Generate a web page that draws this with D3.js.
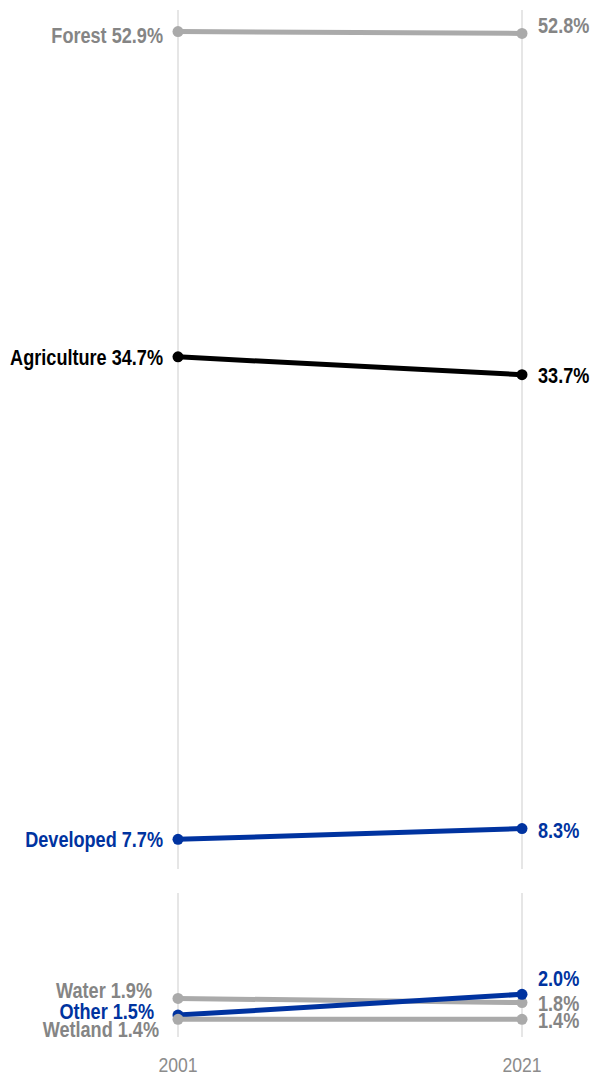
<!DOCTYPE html>
<html>
<head>
<meta charset="utf-8">
<script src="https://cdn.jsdelivr.net/npm/d3@7"></script>
<style>
	body { margin: 0; background: #fff; }
	text { font-family: "Liberation Sans", Arial, sans-serif; }
</style>
</head>
<body>
<svg id="chart" width="592" height="1074"></svg>
<script>
const years = [2001, 2021];
const categories = ["Forest", "Agriculture", "Developed", "Water", "Other", "Wetland"];
const values2001 = [52.9, 34.7, 7.7, 1.9, 1.5, 1.4];
const values2021 = [52.8, 33.7, 8.3, 1.8, 2.0, 1.4];
const panels = ["top", "top", "top", "bottom", "bottom", "bottom"];
const colors = ["#aaaaaa", "#000000", "#0033a0", "#aaaaaa", "#0033a0", "#aaaaaa"];
const textColors = ["#858585", "#000000", "#0033a0", "#858585", "#0033a0", "#858585"];

// label nudges so the texts do not collide (pixels)
const nudgeLeft = [3, 0, 0, -8.5, -4.5, 10];
const nudgeLeftX = [0, 0, 0, -11, -9, -4];
const nudgeRight = [-9, 0, 1, 0, -16, 1];

// no narrow font installed, so squeeze the regular one
const squeeze = 0.805;

const svg = d3.select("#chart");

const x = d3.scalePoint()
	.domain(years)
	.range([178, 522]);

const yScales = {
	top: d3.scaleLinear().domain([6.04, 54.11]).range([869, 10]),
	bottom: d3.scaleLinear().domain([0.975, 4.43]).range([1037, 893])
};

function drawGrid(g) {
	Object.values(yScales).forEach(y => {
		g.selectAll(null)
			.data(years)
			.enter()
			.append("line")
			.attr("x1", d => x(d))
			.attr("x2", d => x(d))
			.attr("y1", y.range()[0])
			.attr("y2", y.range()[1])
			.attr("stroke", "#dedede")
			.attr("stroke-width", 1.5);
	});
}

function drawSeries(g) {
	const rows = categories.map((c, i) => ({
		name: c,
		v: [values2001[i], values2021[i]],
		y: yScales[panels[i]],
		color: colors[i],
		textColor: textColors[i],
		i: i
	}));

	const series = g.selectAll(".series")
		.data(rows)
		.enter()
		.append("g")
		.attr("class", "series");

	series.append("line")
		.attr("x1", x(years[0]))
		.attr("x2", x(years[1]))
		.attr("y1", d => d.y(d.v[0]))
		.attr("y2", d => d.y(d.v[1]))
		.attr("stroke", d => d.color)
		.attr("stroke-width", 5);

	series.selectAll("circle")
		.data(d => d.v.map((v, j) => ({ v: v, j: j, d: d })))
		.enter()
		.append("circle")
		.attr("cx", p => x(years[p.j]))
		.attr("cy", p => p.d.y(p.v))
		.attr("r", 5.5)
		.attr("fill", p => p.d.color);

	series.append("text")
		.attr("transform", d => `translate(${x(years[0]) - 15 + nudgeLeftX[d.i]},${d.y(d.v[0]) + nudgeLeft[d.i]}) scale(${squeeze},1)`)
		.attr("dy", "0.36em")
		.attr("text-anchor", "end")
		.attr("fill", d => d.textColor)
		.style("font-size", "22.5px")
		.style("font-weight", "bold")
		.text(d => `${d.name} ${d3.format(".1f")(d.v[0])}%`);

	series.append("text")
		.attr("transform", d => `translate(${x(years[1]) + 16},${d.y(d.v[1]) + nudgeRight[d.i]}) scale(${squeeze},1)`)
		.attr("dy", "0.36em")
		.attr("text-anchor", "start")
		.attr("fill", d => d.textColor)
		.style("font-size", "22.5px")
		.style("font-weight", "bold")
		.text(d => `${d3.format(".1f")(d.v[1])}%`);
}

function drawXAxis(g) {
	g.selectAll(".year")
		.data(years)
		.enter()
		.append("text")
		.attr("class", "year")
		.attr("transform", d => `translate(${x(d)},1064) scale(0.84,1)`)
		.attr("dy", "0.36em")
		.attr("text-anchor", "middle")
		.attr("fill", "#8c8c8c")
		.style("font-size", "21px")
		.text(d => d);
}

const g = svg.append("g");
drawGrid(g);
drawSeries(g);
drawXAxis(g);
</script>
</body>
</html>
